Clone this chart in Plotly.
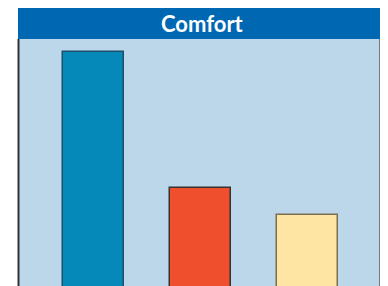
import plotly.graph_objects as go

categories = ["Group A", "Group B", "Group C"]
values = [100, 49, 39]
bar_colors = ["#0589B9", "#F04F2E", "#FFE5A3"]
edge_colors = ["#1B4F6B", "#333333", "#7E6E50"]
title_text = "Comfort"

# page has an 8px body margin; the figure is placed at (8, 8)
OFF = 8
W, H = 388 - OFF, 286 - OFF

fig = go.Figure()
fig.add_trace(go.Bar(
    x=categories, y=values,
    marker=dict(color=bar_colors, line=dict(color=edge_colors, width=1.5)),
    width=0.57,
    hoverinfo="skip",
))

def px(x):
    return (x - OFF) / W

def py(y):
    return (H - (y - OFF)) / H

shapes = []
# shadow to the right of the panel
for i, op in enumerate([0.55, 0.4, 0.28, 0.18, 0.1, 0.05]):
    shapes.append(dict(type="rect", xref="paper", yref="paper",
                       x0=px(381 + i), x1=px(382 + i), y0=py(286), y1=py(10 + i),
                       fillcolor="#3d5a6c", opacity=op, line=dict(width=0), layer="below"))
# title bar
shapes.append(dict(type="rect", xref="paper", yref="paper",
                   x0=px(18), x1=px(381), y0=py(39), y1=py(8),
                   fillcolor="#0068B2", line=dict(width=0)))
# left and right border lines
shapes.append(dict(type="line", xref="paper", yref="paper",
                   x0=px(18.5), x1=px(18.5), y0=py(286), y1=py(39),
                   line=dict(color="#333333", width=2)))
shapes.append(dict(type="line", xref="paper", yref="paper",
                   x0=px(380.5), x1=px(380.5), y0=py(286), y1=py(39),
                   line=dict(color="#222222", width=2)))

fig.update_layout(
    width=W, height=H,
    margin=dict(l=0, r=0, t=0, b=0),
    paper_bgcolor="white",
    plot_bgcolor="#BCD7E9",
    showlegend=False,
    bargap=0,
    shapes=shapes,
    annotations=[dict(text="<b>" + title_text + "</b>", xref="paper", yref="paper",
                      x=px(202.5), y=py(23.5), xanchor="center", yanchor="middle",
                      showarrow=False,
                      font=dict(family="Lato, Open Sans, sans-serif", size=22, color="white"))],
    xaxis=dict(domain=[px(19), px(380)], range=[-0.692, 2.682],
               showticklabels=False, showgrid=False, zeroline=False, ticks=""),
    yaxis=dict(domain=[0, py(39)], range=[12.4, 104.9],
               showticklabels=False, showgrid=False, zeroline=False, ticks=""),
)

fig.write_html("out.html", config={"displayModeBar": False})
